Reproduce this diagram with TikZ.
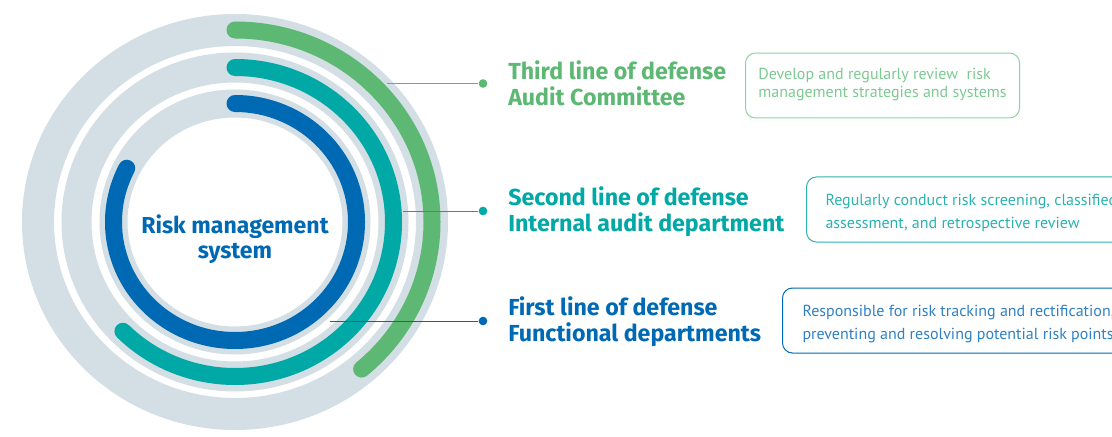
\documentclass[tikz,border=0pt]{standalone}
\usepackage{fontspec}
\setmainfont{Fira Sans}
\newfontfamily\descfont{PT Sans}
\definecolor{ringgray}{HTML}{D3DEE5}
\definecolor{lgreen}{HTML}{5CB872}
\definecolor{lteal}{HTML}{00A8A6}
\definecolor{lblue}{HTML}{0069B4}
\definecolor{boxgreen}{HTML}{8FD2A1}
\definecolor{txtgreen}{HTML}{7CC990}
\definecolor{txtteal}{HTML}{2AB2B0}
\definecolor{txtblue}{HTML}{2F80C4}
\tikzset{
  ring/.style={draw=ringgray},
  band/.style={line cap=round, line width=12.75pt},
  dot/.style={circle, fill, inner sep=0pt, minimum size=6.5pt},
  head/.style={anchor=base west, align=left, inner sep=0pt, font=\bfseries\fontsize{17.4}{19.5}\selectfont},
  desc/.style={draw, rounded corners=7.5pt, line width=0.75pt, anchor=base west, align=left,
    inner ysep=0pt, font=\descfont\fontsize{12}{16.9}\selectfont},
}
\begin{document}
\begin{tikzpicture}[x=0.75pt, y=0.75pt]
   \useasboundingbox (0,0) rectangle (1112,436);
   \coordinate (c) at (235,214);
   % grey rings
   \draw [ring, line width=24pt] (c) ellipse [x radius=197, y radius=192];
   \draw [ring, line width=22.5pt] (c) ellipse [x radius=158.5, y radius=154.5];
   \draw [ring, line width=21pt] (c) ellipse [x radius=121.5, y radius=118.5];
   % lines of defense
   \draw [band, lgreen] (c) ++(90:197 and 192) arc [start angle=90, end angle=-50, x radius=197, y radius=192];
   \draw [band, lteal] (c) ++(90:158.5 and 154.5) arc [start angle=90, end angle=-135, x radius=158.5, y radius=154.5];
   \draw [band, lblue] (c) ++(90:121.5 and 118.5) arc [start angle=90, end angle=-207, x radius=121.5, y radius=118.5];
   \node (sys) [anchor=base, align=center, lblue, font=\bfseries\fontsize{17.3}{18.75}\selectfont] at (235,178) {Risk management\\system};
   % connectors
   \coordinate (c3) at (387,352.5);
   \coordinate (c2) at (403,225);
   \coordinate (c1) at (330,115);
   \node (d3) [dot, lgreen] at (483,352.5) {};
   \node (d2) [dot, lteal] at (483,225) {};
   \node (d1) [dot, lblue] at (483,115) {};
   \draw [lgreen, line width=0.75pt] (c3) -- (d3);
   \draw [lteal, line width=0.75pt] (c2) -- (d2);
   \draw [lblue, line width=0.75pt] (c1) -- (d1);
   \node (h3) [head, lgreen] at (508,330) {Third line of defense\\Audit Committee};
   \node (h2) [head, lteal] at (508,204.3) {Second line of defense\\Internal audit department};
   \node (h1) [head, lblue] at (508,94.3) {First line of defense\\Functional departments};
   % boxes
   \node (b3) [desc, draw=boxgreen, text=txtgreen, minimum width=205.5pt,
      text height=33.2pt, text depth=15.5pt, font=\descfont\fontsize{12}{13}\selectfont] at (745,338.7)
      {Develop and regularly review \ risk\\management strategies and systems};
   \node (b2) [desc, draw=txtteal, text=txtteal, inner xsep=14.25pt,
      text height=38.5pt, text depth=10.3pt] at (806,207.7)
      {Regularly conduct risk screening, classified\\assessment, and retrospective review};
   \node (b1) [desc, draw=lblue, text=txtblue, inner xsep=15pt,
      text height=38.25pt, text depth=10.5pt] at (782,97)
      {Responsible for risk tracking and rectification,\\preventing and resolving potential risk points};
\end{tikzpicture}
\end{document}
